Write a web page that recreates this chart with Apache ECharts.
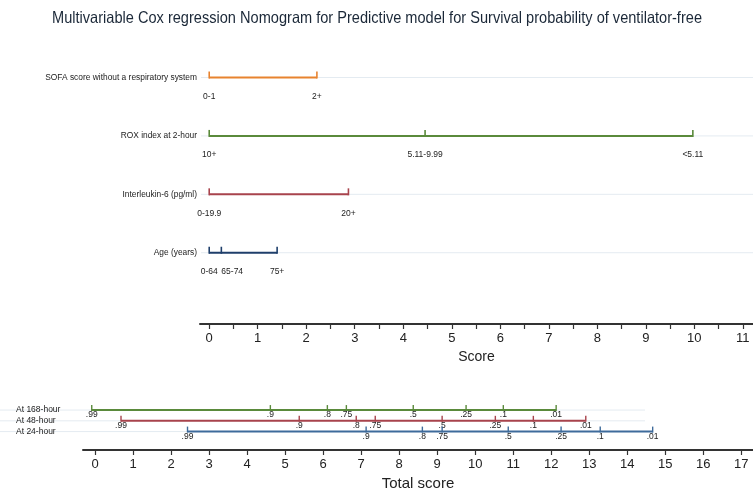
<!DOCTYPE html>
<html>
<head>
<meta charset="utf-8">
<script src="https://cdn.jsdelivr.net/npm/echarts@6/dist/echarts.min.js"></script>
<style>html,body{margin:0;padding:0;background:#fff;}#c{width:753px;height:492px;}</style>
</head>
<body>
<div id="c"></div>
<script>
// ---- Data ----
const titleText = 'Multivariable Cox regression Nomogram for Predictive model for Survival probability of ventilator-free';
const topRowNames = ['SOFA score without a respiratory system', 'ROX index at 2-hour', 'Interleukin-6 (pg/ml)', 'Age (years)'];
const sofaScores = [0, 2.22];
const sofaLabels = ['0-1', '2+'];
const roxScores = [0, 4.45, 9.97];
const roxLabels = ['10+', '5.11-9.99', '<5.11'];
const il6Scores = [0, 2.87];
const il6Labels = ['0-19.9', '20+'];
const ageScores = [0, 0.25, 1.40];
const ageLabels = ['0-64', '65-74', '75+'];
const scoreTicks = [0,1,2,3,4,5,6,7,8,9,10,11];

const bottomRowNames = ['At 168-hour', 'At 48-hour', 'At 24-hour'];
const probLabels = ['.99', '.9', '.8', '.75', '.5', '.25', '.1', '.01'];
const total168 = [-0.09, 4.61, 6.11, 6.61, 8.37, 9.76, 10.74, 12.13];
const total48 = [0.68, 5.37, 6.87, 7.37, 9.13, 10.53, 11.53, 12.91];
const total24 = [2.43, 7.13, 8.61, 9.13, 10.87, 12.26, 13.29, 14.67];
const totalTicks = [0,1,2,3,4,5,6,7,8,9,10,11,12,13,14,15,16,17];

// ---- Build ----
const topScores = [sofaScores, roxScores, il6Scores, ageScores];
const topLabels = [sofaLabels, roxLabels, il6Labels, ageLabels];
const topColors = ['#e8832f', '#5a8a3b', '#a8434c', '#1f3f6b'];
const bottomScores = [total168, total48, total24];
const bottomColors = ['#5a8a3b', '#a8434c', '#3e6b9b'];
const FONT = 'Liberation Sans, Arial, sans-serif';
const TXT = '#222';

const chart = echarts.init(document.getElementById('c'), null, {renderer: 'canvas'});

// measure title to fit the reference's narrow, tall lettering
const mctx = document.createElement('canvas').getContext('2d');
const TITLE_FONT = '16.5px ' + FONT;
mctx.font = TITLE_FONT;
const titleScale = 650 / mctx.measureText(titleText).width;

function topRender(params, api) {
  const i = params.dataIndex;
  const pts = topScores[i], lbls = topLabels[i], col = topColors[i];
  const c0 = api.coord([pts[0], i]);
  const c1 = api.coord([pts[pts.length - 1], i]);
  const y = c0[1];
  const children = [];
  children.push({type: 'line', shape: {x1: 201, y1: y, x2: 753, y2: y}, style: {stroke: '#e4ebf1', lineWidth: 1}});
  children.push({type: 'line', shape: {x1: c0[0], y1: y, x2: c1[0], y2: y}, style: {stroke: col, lineWidth: 2}});
  let prevX = -1e9;
  pts.forEach((p, k) => {
    const c = api.coord([p, i]);
    children.push({type: 'line', shape: {x1: c[0], y1: y + 1, x2: c[0], y2: y - 6}, style: {stroke: col, lineWidth: 1.6}});
    const crowded = (c[0] - prevX) < 20;
    children.push({type: 'text', style: {x: c[0], y: y + 19, text: lbls[k], align: crowded ? 'left' : 'center', verticalAlign: 'middle', font: '8.5px ' + FONT, fill: TXT}});
    prevX = c[0];
  });
  children.push({type: 'text', style: {x: 197, y: y, text: topRowNames[i], align: 'right', verticalAlign: 'middle', font: '8.4px ' + FONT, fill: TXT}});
  return {type: 'group', children};
}

function bottomRender(params, api) {
  const i = params.dataIndex;
  const pts = bottomScores[i], col = bottomColors[i];
  const c0 = api.coord([pts[0], i]);
  const c1 = api.coord([pts[pts.length - 1], i]);
  const y = c0[1];
  const children = [];
  children.push({type: 'line', shape: {x1: 0, y1: y, x2: 645, y2: y}, style: {stroke: '#e4ebf1', lineWidth: 1}});
  children.push({type: 'line', shape: {x1: c0[0], y1: y, x2: c1[0], y2: y}, style: {stroke: col, lineWidth: 2}});
  pts.forEach((p, k) => {
    const c = api.coord([p, i]);
    children.push({type: 'line', shape: {x1: c[0], y1: y + 1, x2: c[0], y2: y - 5}, style: {stroke: col, lineWidth: 1.4}});
    children.push({type: 'text', style: {x: c[0], y: y + 5, text: probLabels[k], align: 'center', verticalAlign: 'middle', font: '8.5px ' + FONT, fill: TXT}});
  });
  children.push({type: 'text', style: {x: 16, y: y, text: bottomRowNames[i], align: 'left', verticalAlign: 'middle', font: '8.5px ' + FONT, fill: TXT}});
  return {type: 'group', children};
}

const axisCommon = {
  type: 'value',
  position: 'bottom',
  nameLocation: 'middle',
  nameTextStyle: {fontSize: 14, color: TXT, fontFamily: FONT},
  axisLine: {show: true, onZero: false, lineStyle: {color: '#333', width: 2}},
  axisTick: {show: true, inside: false, length: 5, lineStyle: {color: '#333', width: 1.2}},
  axisLabel: {fontSize: 13, color: TXT, fontFamily: FONT, margin: 8},
  splitLine: {show: false}
};

const option = {
  backgroundColor: '#fff',
  animation: false,
  graphic: [{
    type: 'text', x: 377, y: 18, scaleX: titleScale, originX: 0, originY: 0,
    style: {text: titleText, font: TITLE_FONT, fill: '#1b2838', align: 'center', verticalAlign: 'middle'}
  }],
  grid: [
    {left: 200, right: 0, top: 60, height: 264},
    {left: 83, right: 0, top: 399.3, height: 53.7}
  ],
  xAxis: [
    Object.assign({}, axisCommon, {
      gridIndex: 0, min: -0.19, max: 11.21, name: 'Score', nameGap: 25,
      axisTick: Object.assign({}, axisCommon.axisTick, {customValues: scoreTicks.flatMap(v => v < 11 ? [v, v + 0.5] : [v])}),
      axisLabel: Object.assign({}, axisCommon.axisLabel, {customValues: scoreTicks})
    }),
    Object.assign({}, axisCommon, {
      gridIndex: 1, min: -0.32, max: 17.31, name: 'Total score', nameGap: 26,
      nameTextStyle: {fontSize: 15, color: TXT, fontFamily: FONT},
      axisTick: Object.assign({}, axisCommon.axisTick, {customValues: totalTicks}),
      axisLabel: Object.assign({}, axisCommon.axisLabel, {customValues: totalTicks})
    })
  ],
  yAxis: [
    {type: 'value', gridIndex: 0, min: -0.3, max: 4.22, inverse: true, show: false},
    {type: 'value', gridIndex: 1, min: -1, max: 3.71, inverse: true, show: false}
  ],
  series: [
    {type: 'custom', xAxisIndex: 0, yAxisIndex: 0, clip: false, renderItem: topRender,
     data: topRowNames.map((n, i) => [0, i]), encode: {x: 0, y: 1}, silent: true},
    {type: 'custom', xAxisIndex: 1, yAxisIndex: 1, clip: false, renderItem: bottomRender,
     data: bottomRowNames.map((n, i) => [0, i]), encode: {x: 0, y: 1}, silent: true}
  ]
};
chart.setOption(option);
</script>
</body>
</html>
